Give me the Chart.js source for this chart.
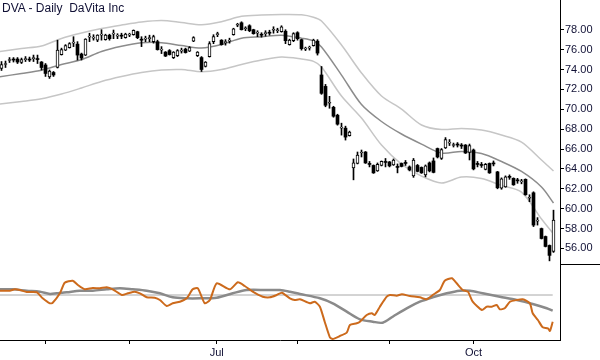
<!DOCTYPE html>
<html>
<head>
<meta charset="utf-8">
<script src="https://cdn.jsdelivr.net/npm/chart.js@4.4.1/dist/chart.umd.min.js"></script>
<style>
body{margin:0;background:#fff;}
#wrap{position:relative;width:600px;height:360px;}
#title{position:absolute;left:2px;top:1px;font:12px "Liberation Sans",Arial,sans-serif;color:#101035;white-space:pre;}
</style>
</head>
<body>
<div id="wrap">
<canvas id="chart" width="600" height="360"></canvas>
<div id="title">DVA - Daily  DaVita Inc</div>
</div>
<script>
// daily candles
const opens=[74.1,74.5,74.9,75.0,75.05,74.7,75.0,75.0,75.1,75.05,74.75,74.45,73.25,73.7,74.2,75.5,75.95,76.2,76.65,76.55,
75.55,75.45,77.25,77.15,76.95,77.45,77.0,77.45,77.55,77.35,77.4,77.2,77.45,77.5,77.8,77.0,77.05,77.1,76.8,76.8,
75.95,75.75,75.9,75.2,75.4,75.85,76.05,75.85,76.85,75.4,75.2,74.3,75.3,76.8,77.5,76.95,76.7,76.85,77.5,78.45,
78.7,78.1,78.4,78.0,77.65,77.5,77.6,77.7,77.95,77.9,77.8,77.85,76.5,76.9,77.7,77.0,76.05,76.15,76.4,76.85,
73.45,72.3,70.6,70.2,69.4,68.1,68.1,67.35,64.1,64.55,65.6,65.7,64.5,64.35,63.8,64.35,64.7,64.7,64.4,64.2,
64.55,64.6,64.2,63.3,64.35,64.15,63.4,64.6,64.8,66.05,65.05,66.1,66.6,66.35,66.45,66.35,66.4,65.65,65.9,64.5,
64.4,63.95,64.55,64.55,63.7,62.05,62.2,63.2,63.05,62.85,62.7,62.95,61.05,61.6,58.75,58.0,57.2,56.3,55.7];
const highs=[74.8,74.85,75.2,75.2,75.2,75.15,75.3,75.25,75.45,75.45,74.8,74.6,73.95,73.8,76.95,76.15,76.5,76.7,77.3,76.8,
75.65,77.1,77.65,77.5,77.5,78.0,77.55,77.55,77.97,77.6,77.65,77.65,77.65,77.98,77.85,77.3,77.35,77.45,77.45,76.95,
76.3,75.8,76.0,75.8,76.0,76.15,76.15,76.3,77.3,75.8,75.3,74.8,76.8,77.5,77.75,77.0,77.0,77.15,78.15,78.65,
78.8,78.3,78.5,78.05,77.9,77.7,77.9,77.95,78.3,78.15,78.4,78.0,77.05,77.7,77.8,77.05,76.25,76.35,77.05,77.0,
74.3,72.5,71.3,70.3,69.5,68.6,68.3,67.8,65.0,65.7,65.9,65.75,64.75,64.4,64.6,64.8,65.05,64.75,65.0,64.5,
64.6,64.85,64.3,65.05,64.45,64.2,64.4,64.7,65.1,66.1,66.05,67.15,66.95,66.6,66.65,66.55,66.45,66.5,66.0,64.75,
64.65,64.55,64.6,64.8,63.75,63.1,63.3,63.4,63.1,63.05,62.95,63.0,61.4,61.7,59.1,58.05,57.25,56.35,59.85];
const lows=[73.9,74.2,74.7,74.75,74.6,74.6,74.8,74.8,74.8,74.6,73.95,73.3,73.1,73.3,74.15,75.45,75.9,76.15,76.3,74.95,
74.95,75.4,76.8,76.95,76.8,76.95,76.95,76.95,77.1,77.1,77.1,77.15,77.3,77.45,77.1,76.3,76.8,76.8,76.65,75.95,
75.6,75.3,75.45,75.1,75.3,75.65,75.65,75.8,76.8,75.3,73.8,74.25,75.25,76.6,77.3,76.45,76.45,76.65,77.45,78.3,
77.97,77.9,77.8,77.55,77.3,77.25,77.35,77.45,77.65,77.7,77.75,76.6,76.45,76.8,76.95,75.95,75.9,75.95,76.35,75.45,
71.5,70.25,70.1,69.2,68.4,67.4,66.9,67.3,62.9,64.5,65.2,64.55,64.2,63.55,63.75,64.3,64.2,64.2,64.35,63.6,
64.2,64.35,63.8,63.15,63.7,63.55,63.2,63.7,63.6,65.1,64.95,66.05,66.35,66.2,66.2,66.05,65.55,64.9,63.9,64.2,
64.15,63.9,63.55,64.3,62.0,61.95,62.15,62.95,62.35,62.55,62.5,61.35,60.7,58.2,58.35,56.95,56.15,54.75,55.6];
const closes=[74.5,74.55,74.95,74.95,74.75,75.0,75.05,74.95,75.15,75.0,74.2,73.6,73.85,73.45,75.95,76.0,76.4,76.6,76.7,75.45,
75.15,77.05,77.3,77.2,77.45,77.5,77.45,77.1,77.6,77.4,77.35,77.55,77.5,77.95,77.2,76.95,77.1,77.15,77.3,76.0,
76.0,75.35,75.5,75.75,75.9,75.9,75.7,76.2,77.2,75.75,74.0,74.75,76.6,77.3,77.55,76.5,76.75,76.9,78.1,78.5,
78.0,78.15,77.9,77.6,77.7,77.45,77.65,77.65,78.0,77.95,78.3,76.9,76.95,77.6,77.1,76.1,76.1,76.2,76.95,75.65,
71.6,70.4,70.65,69.3,68.5,68.15,67.2,67.7,64.6,65.4,65.65,64.6,64.45,63.6,64.45,64.75,64.65,64.3,64.9,64.15,
64.25,64.55,63.9,64.9,63.75,63.6,64.3,63.8,63.65,65.2,65.95,66.95,66.65,66.4,66.4,66.3,65.6,66.35,64.0,64.45,
64.35,64.45,63.6,64.5,62.1,63.0,63.2,63.15,62.4,62.8,62.75,61.4,61.1,58.35,58.8,57.0,56.2,55.3,58.85];

// channel lines (day index -> price)
const bandIdx=[-0.4,5,10,15,20,25,30,35,40,45,50,55,60,65,70,75,78,80,85,90,95,100,105,110,115,120,125,130,135,138];
const bandUpper=[75.81,76.11,76.36,77.12,77.67,78.12,78.47,78.78,78.93,78.73,78.50,78.81,79.35,79.48,79.53,79.50,79.25,78.87,76.46,73.65,71.33,70.02,68.42,67.96,68.06,67.91,67.41,66.70,64.89,63.79];
const bandMid=[73.27,73.60,73.93,74.50,75.00,75.81,76.33,76.68,76.70,76.41,76.16,76.51,77.14,77.29,77.45,77.15,76.87,76.26,73.44,70.48,68.77,67.51,66.50,65.60,65.75,65.55,64.74,63.74,62.18,60.57];
const bandLower=[70.53,70.78,71.05,71.53,72.14,72.79,73.29,73.70,73.95,74.00,73.77,73.99,74.50,74.95,75.25,75.05,74.82,74.25,71.33,69.12,66.40,64.49,63.28,62.58,63.18,63.03,62.33,61.67,58.96,57.45];

// lower panel: fast (orange) and slow (grey) lines
const fastIdx=[-0.4,2.1,3.3,4.6,6.3,8.8,10.3,12.1,12.8,14.6,15.8,17.8,19.1,20.8,22.8,24.6,26.3,27.8,30.1,31.6,33.3,34.6,36.3,38.3,39.6,41.3,42.8,44.6,46.3,47.8,
49.1,50.8,52.1,53.8,57.1,59.1,60.8,62.8,65.3,67.1,68.8,70.1,72.1,73.3,74.6,77.1,78.3,79.6,80.8,82.1,82.8,84.6,86.3,87.1,88.8,89.6,91.3,92.6,93.3,94.6,
96.3,97.1,98.8,100.1,102.1,104.6,106.3,107.8,109.6,110.8,112.6,113.8,115.3,116.6,117.8,120.1,121.3,122.6,123.8,124.6,125.8,127.1,128.8,130.3,132.1,132.8,134.1,135.3,136.6,137.1,137.8];
const fastVals=[4.3,4.3,5.7,5,3,2.7,-3.3,-8.3,-7.7,1.7,12.3,14.3,10,5.7,7,6.7,7.7,5.7,0,1.7,3.3,1.7,-2.3,-2.7,-5,-11,-8.3,-6.7,-3.3,5.7,
6.7,-8.3,-5,11.7,5.7,12.7,9,3.3,-1.7,-2.3,0,2.3,-3.3,-5,-4.3,-8.3,-6.7,-11.7,-26.7,-42.3,-44,-41,-37.7,-30,-28.3,-26.7,-20,-18.3,-20,-11.7,
-1.7,0,-0.7,0.7,-1,-2.3,-4.3,0,5,14.3,16.7,11.7,5,3.3,-6.7,-15,-11.7,-11.7,-10,-14.3,-13.3,-6.7,-5,-4.3,-8.3,-18.3,-25,-32.3,-33.3,-36,-26.7];
const slowIdx=[-0.4,2.8,6.3,9.6,12.1,13.8,16.3,19.6,22.8,26.3,29.6,32.8,36.3,39.6,42.8,46.3,49.6,53.8,57.8,61.3,66.3,69.6,72.1,74.6,79.6,82.8,86.3,89.6,92.8,95.3,
97.8,101.3,104.6,107.8,111.3,114.6,117.1,120.3,124.6,128.8,132.8,136.3,137.8];
const slowVals=[5.7,5.7,4.3,3.3,1,1.7,2.7,4.3,4.3,5.7,6.7,5.7,4.3,1.7,-2.3,-3.3,-3.3,-2.7,1.7,5,5,5,3.3,1,-3.3,-8.3,-16.7,-24.3,-26.7,-27.7,
-21.7,-13.3,-6.7,-2.3,1.7,4.3,4.3,1.7,-1.7,-5,-9,-13.3,-15.7];

const priceTicks=[56,58,60,62,64,66,68,70,72,74,76,78];
const monthTicks=[10.9,32,53.8,74,97,118];
const monthLabels=["","","Jul","","","Oct"];
const priceFloor=54.43; // bottom of the price panel

const upBodies=[],downBodies=[],wicks=[];
let i=0;
while(i<opens.length)
{
    wicks.push({x:i,y:[lows[i],highs[i]]});
    if(closes[i]>=opens[i]) upBodies.push({x:i,y:[opens[i],closes[i]]});
    else downBodies.push({x:i,y:[closes[i],opens[i]]});
    i++;
}
const pts=(xs,ys)=>xs.map((x,k)=>({x:x,y:ys[k]}));
const zeroLine=[{x:fastIdx[0],y:0},{x:fastIdx[fastIdx.length-1],y:0}];

const tickFont={family:"Liberation Sans",size:11};

// line between the price axis and the lower panel axis
const panelLine={
    id:"panelLine",
    afterDraw(c){
        const ctx=c.ctx;
        const y=Math.round(c.scales.y.getPixelForValue(priceFloor))+0.5;
        ctx.save();
        ctx.strokeStyle="#000";
        ctx.lineWidth=1;
        ctx.beginPath();
        ctx.moveTo(c.chartArea.right,y);
        ctx.lineTo(c.width,y);
        ctx.stroke();
        ctx.restore();
    }
};

new Chart(document.getElementById("chart"),{
    type:"bar",
    data:{
        datasets:[
            {type:"bar",data:upBodies,yAxisID:"y",backgroundColor:"#fff",borderColor:"#000",borderWidth:1,borderSkipped:false,barThickness:3,minBarLength:1,grouped:false,order:0},
            {type:"bar",data:downBodies,yAxisID:"y",backgroundColor:"#000",borderWidth:0,barThickness:3,minBarLength:1,grouped:false,order:0},
            {type:"bar",data:wicks,yAxisID:"y",backgroundColor:"#000",borderWidth:0,barThickness:1,grouped:false,order:1},
            {type:"line",data:pts(bandIdx,bandUpper),yAxisID:"y",borderColor:"#c6c6c6",borderWidth:1.5,pointRadius:0,tension:0.3,order:3},
            {type:"line",data:pts(bandIdx,bandMid),yAxisID:"y",borderColor:"#8c8c8c",borderWidth:1.5,pointRadius:0,tension:0.3,order:3},
            {type:"line",data:pts(bandIdx,bandLower),yAxisID:"y",borderColor:"#c6c6c6",borderWidth:1.5,pointRadius:0,tension:0.3,order:3},
            {type:"line",data:zeroLine,yAxisID:"y2",borderColor:"#a8a8a8",borderWidth:1,pointRadius:0,order:6},
            {type:"line",data:pts(slowIdx,slowVals),yAxisID:"y2",borderColor:"#8a8a8a",borderWidth:2.5,pointRadius:0,tension:0.3,order:5},
            {type:"line",data:pts(fastIdx,fastVals),yAxisID:"y2",borderColor:"#cc6a1c",borderWidth:2,pointRadius:0,tension:0.2,order:4}
        ]
    },
    options:{
        responsive:false,
        animation:false,
        devicePixelRatio:1,
        layout:{padding:0},
        plugins:{legend:{display:false},tooltip:{enabled:false}},
        scales:{
            x:{
                type:"linear",min:-0.375,max:139.625,offset:false,bounds:"data",
                grid:{drawOnChartArea:false,offset:false,tickLength:4,tickColor:"#000"},
                border:{color:"#000",width:1},
                afterBuildTicks:s=>{s.ticks=monthTicks.map(v=>({value:v}));},
                ticks:{autoSkip:false,maxRotation:0,padding:2,color:"#101035",font:tickFont,callback:(v,k)=>monthLabels[k]},
                afterFit:s=>{s.height=20;s.paddingLeft=0;s.paddingRight=0;}
            },
            y:{
                position:"right",min:46.79,max:80.99,bounds:"data",
                grid:{drawOnChartArea:false,tickLength:4,tickColor:"#000"},
                border:{color:"#000",width:1},
                afterBuildTicks:s=>{s.ticks=priceTicks.map(v=>({value:v}));},
                ticks:{padding:1,color:"#101035",font:tickFont,callback:v=>v.toFixed(2)},
                afterFit:s=>{s.width=40;s.paddingTop=0;s.paddingBottom=0;}
            },
            y2:{display:false,min:-45,max:295}
        }
    },
    plugins:[panelLine]
});
</script>
</body>
</html>
